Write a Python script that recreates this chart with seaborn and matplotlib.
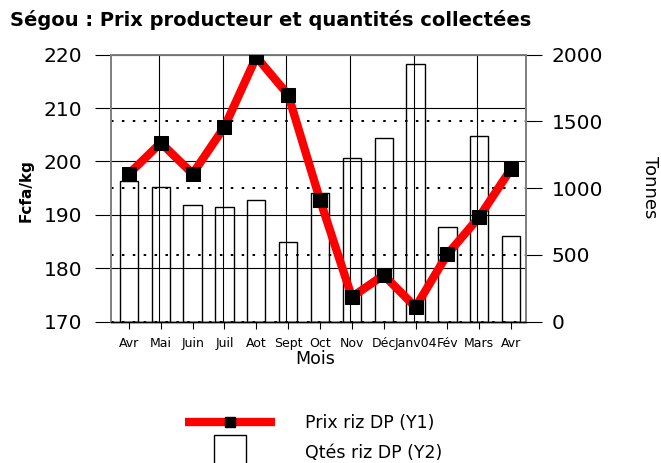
import numpy as np
import pandas as pd
import matplotlib.pyplot as plt
from matplotlib.lines import Line2D
import seaborn as sns

# Data
mois = ["Avr", "Mai", "Juin", "Juil", "Aot", "Sept", "Oct", "Nov", "Déc", "Janv04", "Fév", "Mars", "Avr"]
prix = [197.7, 203.5, 197.7, 206.5, 219.6, 212.5, 192.8, 174.6, 178.7, 172.7, 182.6, 189.6, 198.6]
qtes = [1053, 1010, 870, 855, 910, 600, 967, 1225, 1378, 1932, 712, 1393, 640]
prix_ticks = [170, 180, 190, 200, 210, 220]
qtes_ticks = [0, 500, 1000, 1500, 2000]

sns.set_style("white")
plt.rcParams['font.family'] = ['DejaVu Sans']
plt.rcParams['text.color'] = 'black'
plt.rcParams['axes.labelcolor'] = 'black'
plt.rcParams['xtick.color'] = 'black'
plt.rcParams['ytick.color'] = 'black'

df = pd.DataFrame({"pos": np.arange(len(mois)), "prix": prix, "qtes": qtes})

fig = plt.figure(figsize=(6.61, 4.63), dpi=100)
ax = fig.add_axes([0.1679, 0.3056, 0.6279, 0.576])
ax2 = ax.twinx()
ax.set_zorder(ax2.get_zorder() + 1)
ax.patch.set_visible(False)

# Quantities (right axis)
sns.barplot(data=df, x="pos", y="qtes", ax=ax2, native_scale=True, width=0.575,
            fill=False, color="black", linewidth=1, errorbar=None)

# Prices (left axis)
sns.lineplot(data=df, x="pos", y="prix", ax=ax, color="red", linewidth=6,
             marker="s", markersize=10, markerfacecolor="black",
             markeredgecolor="black", solid_capstyle="butt",
             solid_joinstyle="miter", zorder=5)

ax.set_xlim(-0.565, 12.47)
ax.set_ylim(170, 220)
ax.set_yticks(prix_ticks)
ax2.set_ylim(0, 2000)
ax2.set_yticks(qtes_ticks)
ax.set_xticks(df["pos"])
ax.set_xticklabels(mois)
ax.set_xlabel("")
ax.set_ylabel("")
ax2.set_xlabel("")
ax2.set_ylabel("")

# Grids: solid for left axis, dotted for right axis, verticals every other month
ax.grid(axis="y", color="black", lw=0.8)
ax2.grid(axis="y", color="black", ls=(0, (1.3, 4.3)), lw=1.4)
for p in df["pos"][1::2]:
    ax.axvline(p - 0.06, color="black", lw=0.8, zorder=1)

# Ticks
ax.tick_params(axis="y", direction="out", length=11.5, width=0.8, pad=9,
               labelsize=14.5, left=True)
ax2.tick_params(axis="y", direction="out", length=11.5, width=0.8, pad=7,
                labelsize=14.5, right=True)
ax.tick_params(axis="x", direction="out", length=5, width=0.8,
               pad=6, labelsize=9, bottom=True)

for a in (ax, ax2):
    for side in ("left", "right", "top"):
        a.spines[side].set_color("#808080")
        a.spines[side].set_linewidth(1.3)
    a.spines["bottom"].set_color("black")
    a.spines["bottom"].set_linewidth(1)

# Texts
fig.text(0.015, 0.957, "Ségou : Prix producteur et quantités collectées",
         fontsize=14, fontweight="bold", ha="left", va="center")
fig.text(0.039, 0.5875, "Fcfa/kg", fontsize=11, fontweight="bold",
         rotation=90, ha="center", va="center")
fig.text(0.983, 0.596, "Tonnes", fontsize=13, rotation=-90,
         ha="center", va="center")
fig.text(0.4766, 0.2257, "Mois", fontsize=12.5, ha="center", va="center")

# Legend
h1 = Line2D([], [], color="red", lw=6, marker="s", markersize=7,
            markerfacecolor="black", markeredgecolor="black",
            solid_capstyle="butt")
h2 = Line2D([], [], ls="none", marker="s", markersize=23,
            markerfacecolor="white", markeredgecolor="black", markeredgewidth=1)
fig.legend([h1, h2], ["Prix riz DP (Y1)", "Qtés riz DP (Y2)"],
           loc="upper left", bbox_to_anchor=(0.28, 0.106), frameon=False,
           fontsize=12.5, handlelength=5.2, handletextpad=1.7,
           labelspacing=0.67, borderpad=0, borderaxespad=0, numpoints=1)

fig.savefig("out.png", dpi=100)
